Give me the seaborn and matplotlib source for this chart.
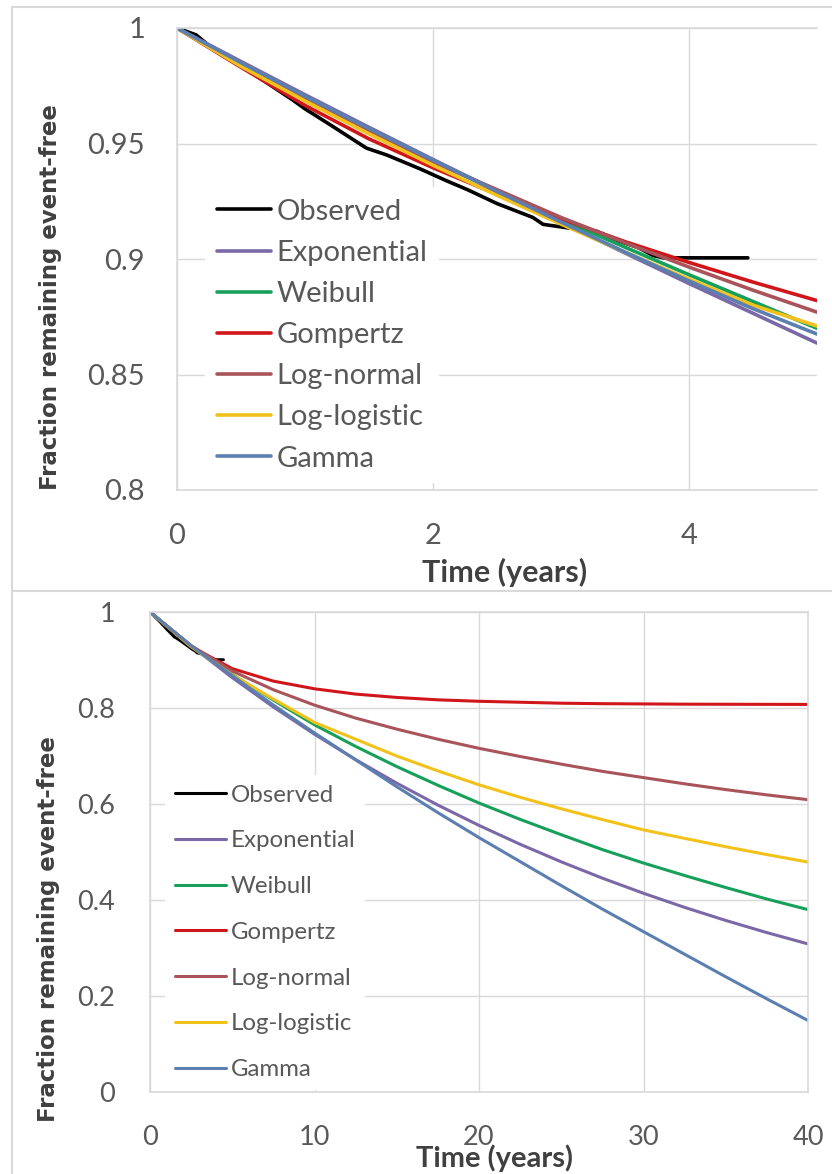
import matplotlib
matplotlib.use("Agg")
import matplotlib.pyplot as plt
import numpy as np
import pandas as pd
import seaborn as sns
from matplotlib.lines import Line2D

# ---------------------------------------------------------------- data
series_order = ["Observed", "Exponential", "Weibull", "Gompertz",
                "Log-normal", "Log-logistic", "Gamma"]
series_colors = ["#000000", "#7b68a6", "#17a05a", "#d0161b",
                 "#a8545a", "#f2c21a", "#5b7fb0"]

# Kaplan-Meier style observed curve (years, fraction event-free)
observed_time = [0.0, 0.15, 0.3, 0.6, 0.9, 1.0, 1.2, 1.48, 1.64, 1.9, 2.1,
                 2.27, 2.5, 2.78, 2.86, 3.05, 3.28, 3.44, 3.6, 3.72, 3.8, 4.46]
observed_frac = [1.0, 0.997, 0.990, 0.980, 0.969, 0.965, 0.958, 0.948, 0.945,
                 0.939, 0.934, 0.930, 0.924, 0.918, 0.915, 0.9135, 0.912,
                 0.908, 0.905, 0.9015, 0.9005, 0.9005]

# fitted curves, short horizon (0-5 years)
short_time = [0.0, 0.5, 1.0, 1.5, 2.0, 2.5, 3.0, 3.5, 4.0, 4.5, 5.0]
short_exponential = [1.0, 0.9855, 0.9711, 0.9570, 0.9431, 0.9294, 0.9159,
                     0.9026, 0.8894, 0.8765, 0.8636]
short_weibull = [1.0, 0.9838, 0.9694, 0.9556, 0.9424, 0.9296, 0.9172,
                 0.9051, 0.8932, 0.8816, 0.8700]
short_gompertz = [1.0, 0.9830, 0.9665, 0.9520, 0.9395, 0.9280, 0.9175,
                  0.9075, 0.8985, 0.8900, 0.8820]
short_lognormal = [1.0, 0.9840, 0.9690, 0.9550, 0.9420, 0.9300, 0.9180,
                   0.9070, 0.8965, 0.8865, 0.8770]
short_loglogistic = [1.0, 0.9834, 0.9684, 0.9542, 0.9406, 0.9276, 0.9151,
                     0.9030, 0.8913, 0.8800, 0.8710]
short_gamma = [1.0, 0.9850, 0.9705, 0.9565, 0.9428, 0.9293, 0.9160,
               0.9030, 0.8905, 0.8785, 0.8675]

# fitted curves, long horizon (0-40 years)
long_time = [0, 2.5, 5, 7.5, 10, 12.5, 15, 17.5, 20, 22.5, 25, 27.5, 30,
             32.5, 35, 37.5, 40]
long_exponential = [1.0, 0.9291, 0.8633, 0.8021, 0.7453, 0.6925, 0.6434,
                    0.5978, 0.5554, 0.5161, 0.4795, 0.4455, 0.4140, 0.3846,
                    0.3574, 0.3321, 0.3085]
long_weibull = [1.0, 0.9296, 0.8700, 0.8165, 0.7650, 0.7200, 0.6780, 0.6390,
                0.6020, 0.5680, 0.5360, 0.5050, 0.4770, 0.4510, 0.4260,
                0.4020, 0.3800]
long_gompertz = [1.0, 0.9280, 0.8820, 0.8560, 0.8400, 0.8290, 0.8220,
                 0.8170, 0.8140, 0.8120, 0.8100, 0.8090, 0.8085, 0.8080,
                 0.8078, 0.8076, 0.8075]
long_lognormal = [1.0, 0.9300, 0.8770, 0.8380, 0.8060, 0.7790, 0.7560,
                  0.7350, 0.7160, 0.6990, 0.6830, 0.6680, 0.6550, 0.6420,
                  0.6300, 0.6190, 0.6090]
long_loglogistic = [1.0, 0.9276, 0.8690, 0.8187, 0.7700, 0.7350, 0.7000,
                    0.6690, 0.6400, 0.6140, 0.5900, 0.5676, 0.5460, 0.5284,
                    0.5110, 0.4946, 0.4790]
long_gamma = [1.0, 0.9293, 0.8675, 0.8060, 0.7480, 0.6920, 0.6360, 0.5820,
              0.5300, 0.4800, 0.4300, 0.3810, 0.3340, 0.2870, 0.2400,
              0.1940, 0.1490]

# axis ticks
short_xticks = [0, 2, 4]
short_xticklabels = ["0", "2", "4"]
short_yticks = [0.8, 0.85, 0.9, 0.95, 1.0]
short_yticklabels = ["0.8", "0.85", "0.9", "0.95", "1"]
long_xticks = [0, 10, 20, 30, 40]
long_xticklabels = ["0", "10", "20", "30", "40"]
long_yticks = [0, 0.2, 0.4, 0.6, 0.8, 1.0]
long_yticklabels = ["0", "0.2", "0.4", "0.6", "0.8", "1"]

y_title = "Fraction remaining event-free"
x_title = "Time (years)"


def long_frame(time, curves):
    parts = [pd.DataFrame({"Time": observed_time, "Fraction": observed_frac,
                           "Model": "Observed"})]
    for name, vals in zip(series_order[1:], curves):
        parts.append(pd.DataFrame({"Time": time, "Fraction": vals,
                                   "Model": name}))
    return pd.concat(parts, ignore_index=True)


short_df = long_frame(short_time, [short_exponential, short_weibull,
                                   short_gompertz, short_lognormal,
                                   short_loglogistic, short_gamma])
long_df = long_frame(long_time, [long_exponential, long_weibull,
                                 long_gompertz, long_lognormal,
                                 long_loglogistic, long_gamma])

# ---------------------------------------------------------------- style
sns.set_theme(style="white")
plt.rcParams["font.family"] = ["Lato", "DejaVu Sans"]

GRID = "#d9d9d9"
TICK = "#595959"
LABEL = "#404040"
palette = dict(zip(series_order, series_colors))

W, H = 832, 1174
fig = plt.figure(figsize=(W / 100, H / 100), dpi=100)
fig.patch.set_facecolor("white")


def px_axes(left, top, right, bottom):
    return fig.add_axes([left / W, 1 - bottom / H,
                         (right - left) / W, (bottom - top) / H])


def style_axes(ax, xlim, ylim, xticks, xlabels, yticks, ylabels, tick_fs,
               right_spine, ypad):
    ax.set_xlim(*xlim)
    ax.set_ylim(*ylim)
    ax.set_xticks(xticks)
    ax.set_xticklabels(xlabels)
    ax.set_yticks(yticks)
    ax.set_yticklabels(ylabels)
    ax.grid(True, color=GRID, lw=1.0)
    ax.set_axisbelow(True)
    for side, sp in ax.spines.items():
        sp.set_color(GRID)
        sp.set_linewidth(1.2)
        sp.set_visible(side != "right" or right_spine)
    ax.tick_params(axis="both", length=0, labelsize=tick_fs,
                   labelcolor=TICK)
    ax.tick_params(axis="x", pad=24)
    ax.tick_params(axis="y", pad=ypad)


def add_legend(ax, fs, anchor_px, handlelength, labelspacing, lw):
    handles = [Line2D([], [], color=c, lw=lw) for c in series_colors]
    leg = ax.legend(handles, series_order, loc="upper left",
                    bbox_to_anchor=(anchor_px[0] / W, 1 - anchor_px[1] / H),
                    bbox_transform=fig.transFigure, frameon=True,
                    facecolor="white", edgecolor="none", framealpha=1.0,
                    fontsize=fs, handlelength=handlelength,
                    handletextpad=0.2, labelspacing=labelspacing,
                    borderpad=0.4, borderaxespad=0, fancybox=False)
    for t in leg.get_texts():
        t.set_color(TICK)
    return leg


# ---------------------------------------------------------------- top panel
ax1 = px_axes(177, 28, 817, 490)
sns.lineplot(data=short_df, x="Time", y="Fraction", hue="Model",
             hue_order=series_order, palette=palette, estimator=None,
             sort=False, lw=2.6, legend=False, ax=ax1)
style_axes(ax1, (0, 5), (0.8, 1.0), short_xticks, short_xticklabels,
           short_yticks, short_yticklabels, 21, False, 23)
add_legend(ax1, 21, (205, 187), 1.85, 0.52, 2.6)
ax1.set_xlabel(x_title, fontsize=22, fontweight="bold", color=LABEL)
ax1.xaxis.set_label_coords((505 - 177) / 640, (490 - 572) / 462)
ax1.xaxis.label.set_va("center")
ax1.set_ylabel(y_title, fontsize=16.5, fontweight="bold", color=LABEL,
               family="DejaVu Sans")
ax1.yaxis.set_label_coords((51 - 177) / 640, (490 - 297) / 462)
ax1.yaxis.label.set_va("center")

# ---------------------------------------------------------------- bottom panel
ax2 = px_axes(150, 612, 808, 1092)
sns.lineplot(data=long_df, x="Time", y="Fraction", hue="Model",
             hue_order=series_order, palette=palette, estimator=None,
             sort=False, lw=2.2, legend=False, ax=ax2)
style_axes(ax2, (0, 40), (0, 1.0), long_xticks, long_xticklabels,
           long_yticks, long_yticklabels, 19.5, True, 25)
add_legend(ax2, 17.3, (165, 775), 2.15, 1.03, 2.2)
ax2.set_xlabel(x_title, fontsize=21, fontweight="bold", color=LABEL)
ax2.xaxis.set_label_coords((495 - 150) / 658, (1092 - 1158) / 480)
ax2.xaxis.label.set_va("center")
ax2.set_ylabel(y_title, fontsize=16.5, fontweight="bold", color=LABEL,
               family="DejaVu Sans")
ax2.yaxis.set_label_coords((49 - 150) / 658, (1092 - 929) / 480)
ax2.yaxis.label.set_va("center")

# chart-area borders around each panel
for (x0, y0, x1, y1) in [(12, 7, W, 7), (12, 7, 12, H), (12, 591, W, 591)]:
    fig.add_artist(Line2D([x0 / W, x1 / W], [1 - y0 / H, 1 - y1 / H],
                          transform=fig.transFigure, color=GRID, lw=1.5))

fig.savefig("out.png", dpi=100, facecolor="white")
